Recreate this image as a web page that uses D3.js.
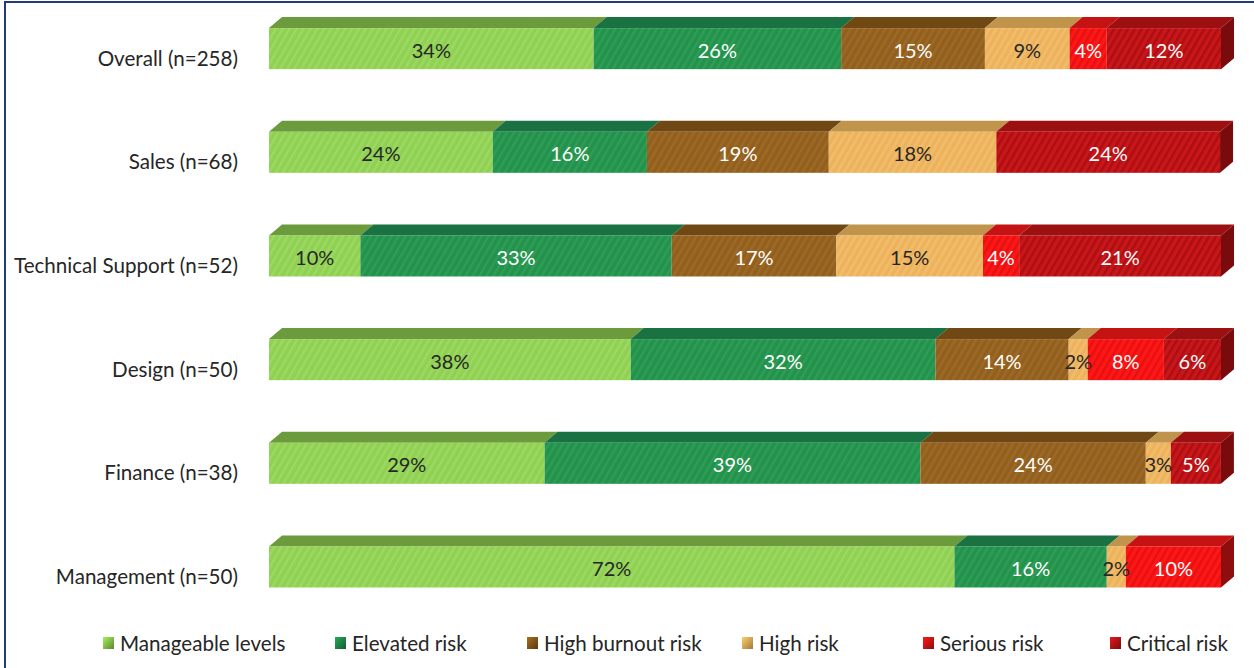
<!DOCTYPE html>
<html>
<head>
<meta charset="utf-8">
<script src="https://cdn.jsdelivr.net/npm/d3@7"></script>
<style>
  html, body { margin: 0; padding: 0; background: #ffffff; }
  svg { display: block; }
  text { font-family: "Lato", "Noto Sans", sans-serif; }
</style>
</head>
<body>
<svg id="chart" width="1254" height="668"></svg>
<script>
// Burnout risk distribution by team (share of respondents, %)
const categories = ["Overall (n=258)", "Sales (n=68)", "Technical Support (n=52)", "Design (n=50)", "Finance (n=38)", "Management (n=50)"];
const seriesNames = ["Manageable levels", "Elevated risk", "High burnout risk", "High risk", "Serious risk", "Critical risk"];

const manageable = [34.1, 23.5, 9.6, 38, 28.95, 72];
const elevated   = [26.0, 16.2, 32.7, 32, 39.47, 16];
const highBurnout= [15.1, 19.1, 17.3, 14, 23.68, 0];
const highRisk   = [8.9, 17.6, 15.4, 2, 2.63, 2];
const serious    = [3.9, 0, 3.8, 8, 0, 10];
const critical   = [12.0, 23.5, 21.2, 6, 5.26, 0];
const seriesValues = [manageable, elevated, highBurnout, highRisk, serious, critical];

// front / top / side shades, stripe tint and label colour per series
const frontColors = ["#8fd150", "#21934b", "#935f1b", "#eeb35a", "#ff1616", "#c8161a"];
const topColors   = ["#6c9b3d", "#1a7141", "#6f4814", "#c0944a", "#c51313", "#9c1011"];
const sideColors  = ["#5d8634", "#155c35", "#5a3a10", "#a17a3a", "#8e0d0d", "#7a0b0c"];
const stripeColors= ["rgba(255,255,255,0.12)", "rgba(255,255,255,0.07)", "rgba(255,255,255,0.07)", "rgba(255,255,255,0.13)", "rgba(150,0,0,0.25)", "rgba(110,0,0,0.32)"];
const labelColors = ["#262626", "#ffffff", "#ffffff", "#262626", "#ffffff", "#ffffff"];

const svg = d3.select("#chart");
const W = 1254, H = 668;

// frame lines
svg.append("line").attr("x1", 5).attr("x2", 5).attr("y1", 2).attr("y2", H)
  .attr("stroke", "#1f3b7c").attr("stroke-width", 2);
svg.append("line").attr("x1", 4).attr("x2", W).attr("y1", 2).attr("y2", 2)
  .attr("stroke", "#1f3b7c").attr("stroke-width", 2);

const defs = svg.append("defs");
seriesNames.forEach((name, i) => {
  const p = defs.append("pattern")
    .attr("id", "stripe" + i)
    .attr("patternUnits", "userSpaceOnUse")
    .attr("width", 6).attr("height", 12)
    .attr("patternTransform", "rotate(30)");
  p.append("rect").attr("width", 6).attr("height", 12).attr("fill", frontColors[i]);
  p.append("rect").attr("x", 0).attr("width", 2.4).attr("height", 12).attr("fill", stripeColors[i]);

  const g = defs.append("linearGradient").attr("id", "legendGrad" + i)
    .attr("x1", "0%").attr("y1", "0%").attr("x2", "100%").attr("y2", "100%");
  g.append("stop").attr("offset", "0%").attr("stop-color", d3.color(frontColors[i]).brighter(0.4));
  g.append("stop").attr("offset", "100%").attr("stop-color", sideColors[i]);
});

// scales
const x = d3.scaleLinear().domain([0, 100]).range([269, 1221]);
const y = d3.scaleBand().domain(categories)
  .range([-3.2, 618.8]).paddingInner(0.604).paddingOuter(0.302);

const depthX = 13, depthY = 11;

// stack the series
const rows = categories.map((c, ci) => {
  const r = { category: c };
  seriesNames.forEach((s, si) => { r[s] = seriesValues[si][ci]; });
  return r;
});
const stacked = d3.stack().keys(seriesNames)(rows);

const barsG = svg.append("g");
categories.forEach((cat, ci) => {
  const g = barsG.append("g");
  const y0 = y(cat), y1 = y0 + y.bandwidth();
  let lastIdx = -1;
  stacked.forEach((layer, si) => {
    const d = layer[ci];
    if (d[1] - d[0] <= 0) return;
    lastIdx = si;
    const xa = x(d[0]), xb = x(d[1]);
    // top face
    g.append("path")
      .attr("d", `M${xa},${y0} L${xb},${y0} L${xb + depthX},${y0 - depthY} L${xa + depthX},${y0 - depthY} Z`)
      .attr("fill", topColors[si]);
    // front face
    g.append("rect")
      .attr("x", xa).attr("y", y0)
      .attr("width", xb - xa).attr("height", y1 - y0)
      .attr("fill", `url(#stripe${si})`);
  });
  // right side face of the last segment
  const end = x(stacked[lastIdx][ci][1]);
  g.append("path")
    .attr("d", `M${end},${y0} L${end + depthX},${y0 - depthY} L${end + depthX},${y1 - depthY} L${end},${y1} Z`)
    .attr("fill", sideColors[lastIdx]);

  // value labels
  stacked.forEach((layer, si) => {
    const d = layer[ci];
    const v = d[1] - d[0];
    if (v <= 0) return;
    g.append("text")
      .attr("x", (x(d[0]) + x(d[1])) / 2)
      .attr("y", (y0 + y1) / 2 + 1)
      .attr("text-anchor", "middle")
      .attr("dominant-baseline", "central")
      .attr("font-size", 20)
      .attr("fill", labelColors[si])
      .text(Math.round(v) + "%");
  });
});

// category labels
svg.append("g").selectAll("text").data(categories).join("text")
  .attr("x", 238)
  .attr("y", d => y(d) + y.bandwidth() / 2 + 9)
  .attr("text-anchor", "end")
  .attr("dominant-baseline", "central")
  .attr("font-size", 20.6)
  .attr("fill", "#262626")
  .text(d => d);

// legend
const legendX = [103, 335, 527, 742, 923, 1110];
const lg = svg.append("g").selectAll("g").data(seriesNames).join("g")
  .attr("transform", (d, i) => `translate(${legendX[i]},643)`);
lg.append("rect").attr("x", 0).attr("y", -6).attr("width", 11).attr("height", 12)
  .attr("fill", (d, i) => `url(#legendGrad${i})`);
lg.append("text").attr("x", 17).attr("y", 0)
  .attr("dominant-baseline", "central")
  .attr("font-size", 20.6)
  .attr("fill", "#262626")
  .text(d => d);
</script>
</body>
</html>
